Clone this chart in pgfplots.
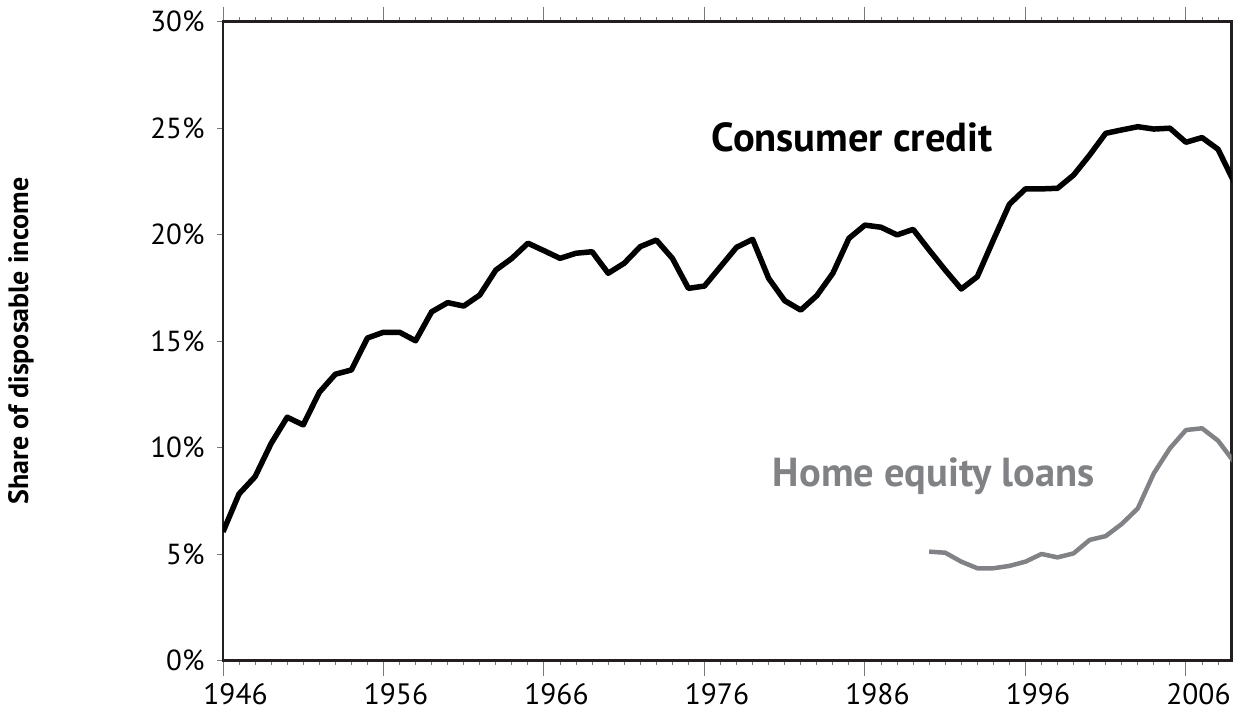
\documentclass[border=0pt]{standalone}
\usepackage{fontspec}
\setmainfont{PT Sans}
\usepackage{pgfplots}
\pgfplotsset{compat=1.18}
\definecolor{eqgray}{HTML}{808285}
\definecolor{axdark}{HTML}{231F20}
\definecolor{tickgray}{HTML}{7A7A7A}
\begin{document}
\begin{tikzpicture}[x=1pt,y=1pt]
\useasboundingbox (0,0) rectangle (1233,715);
\begin{axis}[
  at={(223pt,54.3pt)}, anchor=south west,
  scale only axis, width=1008.7pt, height=639pt,
  xmin=1946, xmax=2008.85, ymin=0, ymax=30,
  axis line style={axdark, line width=2.6pt},
  tick align=outside,
  xtick={1946,1956,1966,1976,1986,1996,2006},
  xticklabels={1946,1956,1966,1976,1986,1996,2006},
  minor xtick={1947,1948,1949,1950,1951,1952,1953,1954,1955,
    1957,1958,1959,1960,1961,1962,1963,1964,1965,
    1967,1968,1969,1970,1971,1972,1973,1974,1975,
    1977,1978,1979,1980,1981,1982,1983,1984,1985,
    1987,1988,1989,1990,1991,1992,1993,1994,1995,
    1997,1998,1999,2000,2001,2002,2003,2004,2005,
    2007,2008},
  ytick={0,5,10,15,20,25,30},
  yticklabels={0\%,5\%,10\%,15\%,20\%,25\%,30\%},
  major tick length=15pt, minor tick length=4.5pt,
  xtick style={/pgfplots/major tick length=15pt, tickgray, line width=1pt},
  ytick style={/pgfplots/major tick length=6pt, tickgray, line width=1pt},
  minor tick style={axdark, line width=1.3pt},
  xticklabel style={font=\fontsize{29.5}{31}\selectfont, xshift=12.5pt, yshift=-4pt},
  yticklabel style={font=\fontsize{29}{31}\selectfont},
]
\addplot[black, line width=5.5pt, line join=round] coordinates {
(1946,6.05) (1947,7.83) (1948,8.64) (1949,10.2) (1950,11.43) (1951,11.07)
(1952,12.6) (1953,13.45) (1954,13.65) (1955,15.15) (1956,15.42) (1957,15.42)
(1958,15.02) (1959,16.38) (1960,16.81) (1961,16.65) (1962,17.17) (1963,18.34)
(1964,18.89) (1965,19.6) (1966,19.25) (1967,18.89) (1968,19.13) (1969,19.2)
(1970,18.19) (1971,18.66) (1972,19.44) (1973,19.75) (1974,18.89) (1975,17.48)
(1976,17.59) (1977,18.5) (1978,19.41) (1979,19.78) (1980,17.95) (1981,16.9)
(1982,16.46) (1983,17.14) (1984,18.19) (1985,19.83) (1986,20.45) (1987,20.35)
(1988,19.99) (1989,20.25) (1990,19.28) (1991,18.34) (1992,17.45) (1993,18.03)
(1994,19.75) (1995,21.43) (1996,22.15) (1997,22.15) (1998,22.18) (1999,22.8)
(2000,23.74) (2001,24.76) (2002,24.92) (2003,25.07) (2004,24.96) (2005,25.0)
(2006,24.34) (2007,24.56) (2008,24.01) (2009,22.47)
};
\addplot[eqgray, line width=4.5pt, line join=round] coordinates {
(1990,5.12) (1991,5.07) (1992,4.65) (1993,4.34) (1994,4.34) (1995,4.45)
(1996,4.65) (1997,5.01) (1998,4.85) (1999,5.04) (2000,5.67) (2001,5.85)
(2002,6.42) (2003,7.15) (2004,8.8) (2005,9.97) (2006,10.83) (2007,10.91)
(2008,10.33) (2009,9.33)
};
\node[anchor=base west, inner sep=0pt, font=\bfseries\fontsize{40.5}{42}\selectfont] at (axis cs:1976.45,23.9) {Consumer credit};
\node[anchor=base west, inner sep=0pt, text=eqgray, font=\bfseries\fontsize{40.5}{42}\selectfont] at (axis cs:1980.25,8.17) {Home equity loans};
\end{axis}
\node[rotate=90, inner sep=0pt, font=\bfseries\fontsize{28}{30}\selectfont] at (21,374) {Share of disposable income};
\end{tikzpicture}
\end{document}
